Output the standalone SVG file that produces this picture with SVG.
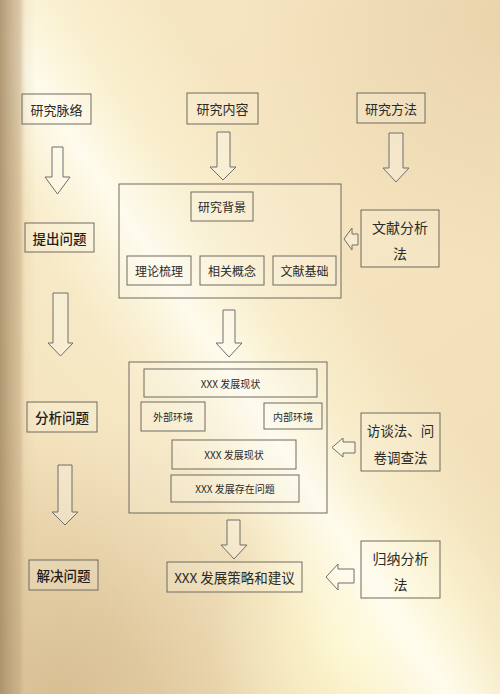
<svg xmlns="http://www.w3.org/2000/svg" width="500" height="694" viewBox="0 0 500 694">
<defs>
<linearGradient id="base" x1="0" y1="0" x2="500" y2="694" gradientUnits="userSpaceOnUse">
<stop offset="0" stop-color="#f6e6c2"/>
<stop offset="0.5" stop-color="#f4e3bd"/>
<stop offset="1" stop-color="#f0ddb4"/>
</linearGradient>
<linearGradient id="band" x1="-20" y1="430" x2="394" y2="150" gradientUnits="userSpaceOnUse">
<stop offset="0" stop-color="#fffce0" stop-opacity="0"/>
<stop offset="0.3" stop-color="#fffce0" stop-opacity="0.2"/>
<stop offset="0.48" stop-color="#fffef2" stop-opacity="0.9"/>
<stop offset="0.62" stop-color="#fffce0" stop-opacity="0.4"/>
<stop offset="0.8" stop-color="#fffce0" stop-opacity="0"/>
</linearGradient>
<linearGradient id="leftstrip" x1="0" y1="0" x2="36" y2="0" gradientUnits="userSpaceOnUse">
<stop offset="0" stop-color="#a88e68" stop-opacity="0.9"/>
<stop offset="0.55" stop-color="#c4a880" stop-opacity="0.6"/>
<stop offset="0.7" stop-color="#d8c098" stop-opacity="0.2"/>
<stop offset="1" stop-color="#d8c098" stop-opacity="0"/>
</linearGradient>
<radialGradient id="bl" cx="60" cy="694" r="280" gradientUnits="userSpaceOnUse">
<stop offset="0" stop-color="#cfb286" stop-opacity="0.75"/>
<stop offset="1" stop-color="#cfb286" stop-opacity="0"/>
</radialGradient>
<radialGradient id="tr" cx="500" cy="20" r="250" gradientUnits="userSpaceOnUse">
<stop offset="0" stop-color="#e2c9a0" stop-opacity="0.6"/>
<stop offset="1" stop-color="#e2c9a0" stop-opacity="0"/>
</radialGradient>
<radialGradient id="brY" cx="360" cy="640" r="150" gradientUnits="userSpaceOnUse">
<stop offset="0" stop-color="#fffacc" stop-opacity="0.85"/>
<stop offset="1" stop-color="#fffacc" stop-opacity="0"/>
</radialGradient>
<style>
.box{fill:#ffffff;fill-opacity:0.12;stroke:#6e6a60;stroke-width:1}
.arr{fill:#ffffff;fill-opacity:0.25;stroke:#6e6e6e;stroke-width:1;stroke-linejoin:miter}
text{font-family:"Noto Sans CJK SC","Noto Sans",sans-serif;fill:#2a2a2a;text-anchor:middle;dominant-baseline:central}
.t13{font-size:13px}
.t12{font-size:12px}
.t10{font-size:10px}
.b{font-size:13.5px;font-weight:500;fill:#1e1e1e}
</style>
</defs>
<g id="background">
<rect width="500" height="694" fill="url(#base)"/>
<rect width="500" height="694" fill="url(#tr)"/>
<rect width="500" height="694" fill="url(#bl)"/>
<rect width="500" height="694" fill="url(#brY)"/>
<rect width="500" height="694" fill="url(#band)"/>
<rect width="36" height="694" fill="url(#leftstrip)"/>
</g>
<g id="connectors">
<polygon class="arr" points="52,147 63,147 63,177 70,177 57.5,194 45,177 52,177"/>
<polygon class="arr" points="217,132 230,132 230,167 236,167 223,180 210,167 217,167"/>
<polygon class="arr" points="389,133 403,133 403,168 409,168 396,182 383,168 389,168"/>
<polygon class="arr" points="53,293 68,293 68,343 73,343 60.5,356 48,343 53,343"/>
<polygon class="arr" points="223,310 235,310 235,343 242,343 229,357 216,343 223,343"/>
<polygon class="arr" points="58,465 72,465 72,512 78,512 65,525 52,512 58,512"/>
<polygon class="arr" points="227,520 240,520 240,545 247,545 234,559 221,545 227,545"/>
<polygon class="arr" points="358,234 358,245 352,245 352,250 344,239 352,228 352,234"/>
<polygon class="arr" points="355,442 355,453 343,453 343,457 332,447.5 343,438 343,442"/>
<polygon class="arr" points="354,569 354,583 338,583 338,590 326,577 338,564 338,569"/>
</g>
<g id="node-yanjiumailuo"><rect class="box" x="22" y="94" width="69" height="30"/><text class="t13" x="56.5" y="109">研究脉络</text></g>
<g id="node-yanjiuneirong"><rect class="box" x="187" y="93" width="71" height="31"/><text class="t13" x="222.5" y="108.5">研究内容</text></g>
<g id="node-yanjiufangfa"><rect class="box" x="357" y="93" width="68" height="30"/><text class="t13" x="391" y="108">研究方法</text></g>
<g id="node-tichuwenti"><rect class="box" x="25" y="223" width="69" height="29"/><text class="b" x="59.5" y="237.5">提出问题</text></g>
<g id="node-box1"><rect class="box" x="119" y="184" width="222" height="114"/></g>
<g id="node-yanjiubeijing"><rect class="box" x="191" y="192" width="62" height="29"/><text class="t12" x="222" y="206.5">研究背景</text></g>
<g id="node-lilunshuli"><rect class="box" x="127" y="256" width="64" height="29"/><text class="t12" x="159" y="270.5">理论梳理</text></g>
<g id="node-xiangguangainian"><rect class="box" x="200" y="256" width="64" height="29"/><text class="t12" x="232" y="270.5">相关概念</text></g>
<g id="node-wenxianjichu"><rect class="box" x="273" y="256" width="63" height="29"/><text class="t12" x="304.5" y="270.5">文献基础</text></g>
<g id="node-wenxianfenxifa"><rect class="box" x="361" y="210" width="78" height="57"/><text class="t13" x="400" y="226.5" style="font-size:14px">文献分析</text><text class="t13" x="400" y="253" style="font-size:14px">法</text></g>
<g id="node-box2"><rect class="box" x="129" y="362" width="198" height="151"/></g>
<g id="node-xianzhuang1"><rect class="box" x="144" y="369" width="173" height="28"/><text class="t10" x="230.5" y="383">XXX 发展现状</text></g>
<g id="node-waibu"><rect class="box" x="141" y="402" width="64" height="29"/><text class="t10" x="173" y="416.5">外部环境</text></g>
<g id="node-neibu"><rect class="box" x="264" y="403" width="58" height="26"/><text class="t10" x="293" y="416">内部环境</text></g>
<g id="node-xianzhuang2"><rect class="box" x="172" y="440" width="124" height="29"/><text class="t10" x="234" y="454.5">XXX 发展现状</text></g>
<g id="node-wenti"><rect class="box" x="171" y="475" width="128" height="27"/><text class="t10" x="235" y="488.5">XXX 发展存在问题</text></g>
<g id="node-fenxiwenti"><rect class="box" x="27" y="402" width="70" height="30"/><text class="b" x="62" y="417">分析问题</text></g>
<g id="node-fangtan"><rect class="box" x="361" y="413" width="79" height="58"/><text class="t13" x="400.5" y="430" style="font-size:13.5px">访谈法、问</text><text class="t13" x="400.5" y="457" style="font-size:13.5px">卷调查法</text></g>
<g id="node-jiejuewenti"><rect class="box" x="29" y="560" width="69" height="30"/><text class="b" x="63.5" y="575">解决问题</text></g>
<g id="node-celue"><rect class="box" x="167" y="562" width="135" height="30"/><text class="t13" x="234.5" y="577" style="font-size:13.5px">XXX 发展策略和建议</text></g>
<g id="node-guina"><rect class="box" x="361" y="541" width="79" height="57"/><text class="t13" x="400.5" y="558" style="font-size:14px">归纳分析</text><text class="t13" x="400.5" y="584" style="font-size:14px">法</text></g>
</svg>
